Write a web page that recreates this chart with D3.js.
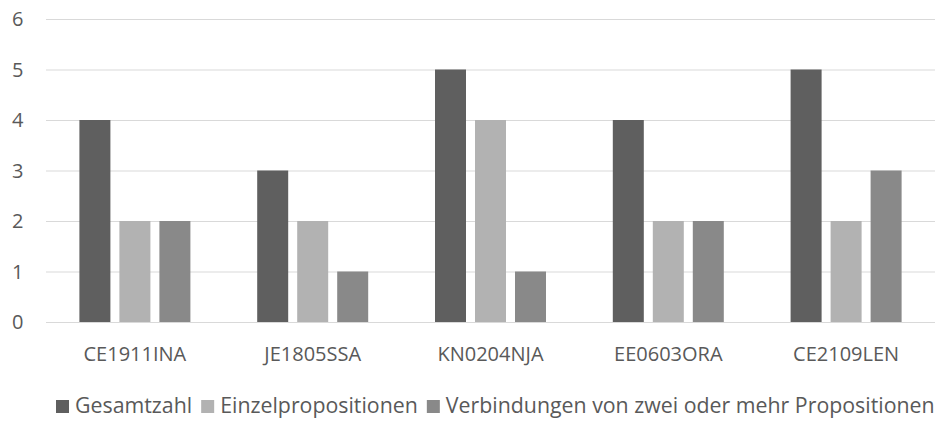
<!DOCTYPE html>
<html><head><meta charset="utf-8">
<script src="https://cdn.jsdelivr.net/npm/d3@7"></script>
<style>body{margin:0;background:#fff}svg{display:block}</style>
</head><body>
<svg id="c" width="936" height="421"></svg>
<script>
const categories = ["CE1911INA","JE1805SSA","KN0204NJA","EE0603ORA","CE2109LEN"];
const seriesNames = ["Gesamtzahl","Einzelpropositionen","Verbindungen von zwei oder mehr Propositionen"];
const gesamtzahl = [4,3,5,4,5];
const einzel = [2,2,4,2,2];
const verbindungen = [2,1,1,2,3];
const yTicks = [0,1,2,3,4,5,6];
const colors = ["#5f5f5f","#b2b2b2","#898989"];

(function(){
const series = [gesamtzahl, einzel, verbindungen];
const svg = d3.select("#c");
const font = "'Open Sans', Calibri, sans-serif";
const fsz = "20px";
const pLeft = 46, pRight = 935, pTop = 19, pBottom = 322;

const x = d3.scaleBand().domain(categories).range([pLeft, pRight]);
const y = d3.scaleLinear().domain([0, 6]).range([pBottom, pTop]);
const barW = 31, gap = 9;
const inner = d3.scaleBand().domain(d3.range(series.length))
  .range([-(barW*1.5+gap), barW*1.5+gap]).paddingInner(gap/(barW+gap)).paddingOuter(0);

svg.append("g").selectAll("line").data(yTicks).join("line")
  .attr("x1", pLeft).attr("x2", pRight)
  .attr("y1", d => y(d)+0.5).attr("y2", d => y(d)+0.5)
  .attr("stroke", "#d9d9d9").attr("stroke-width", 1);

svg.append("g").selectAll("text").data(yTicks).join("text")
  .attr("x", 23.5).attr("y", d => y(d)).attr("dy", "0.35em")
  .attr("text-anchor", "end").attr("fill", "#595959")
  .style("font-family", font).style("font-size", fsz).text(d => d);

series.forEach((vals, si) => {
  svg.append("g").selectAll("rect").data(vals).join("rect")
    .attr("x", (d, i) => x(categories[i]) + x.bandwidth()/2 + inner(si))
    .attr("width", inner.bandwidth())
    .attr("y", d => y(d))
    .attr("height", d => y(0) - y(d))
    .attr("fill", colors[si]);
});

svg.append("g").selectAll("text").data(categories).join("text")
  .attr("x", d => x(d) + x.bandwidth()/2).attr("y", 354).attr("dy", "0.35em")
  .attr("text-anchor", "middle").attr("fill", "#595959")
  .style("font-family", font).style("font-size", fsz).text(d => d);

const lg = svg.append("g");
const lx0 = 56, lxEnd = 935, ly = 406;
const items = lg.selectAll("g").data(seriesNames).join("g");
items.append("rect").attr("width", 13).attr("height", 13).attr("y", ly-6)
  .attr("fill", (d,i) => colors[i]);
const texts = items.append("text").attr("x", 19).attr("y", ly).attr("dy", "0.35em")
  .attr("fill", "#595959").style("font-family", font).style("font-size", "16px").text(d => d);
let widths = texts.nodes().map(n => n.getComputedTextLength());
const sqTotal = seriesNames.length*19 + (seriesNames.length-1)*9;
let fs = 16 * (lxEnd - lx0 - sqTotal) / d3.sum(widths);
texts.style("font-size", fs + "px");
widths = texts.nodes().map(n => n.getComputedTextLength());
let cx = lx0;
items.attr("transform", (d, i) => { const t = `translate(${cx},0)`; cx += 19 + widths[i] + 9; return t; });
})();
</script>
</body></html>
